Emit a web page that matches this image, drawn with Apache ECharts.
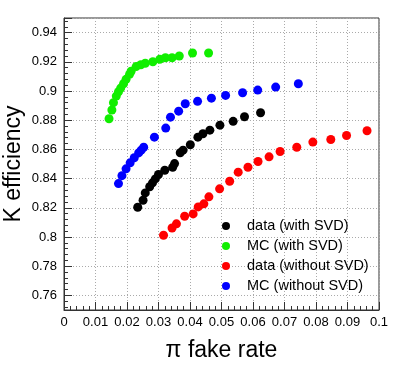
<!DOCTYPE html>
<html><head><meta charset="utf-8">
<script src="https://cdn.jsdelivr.net/npm/echarts@6/dist/echarts.min.js"></script>
<style>html,body{margin:0;padding:0;background:#fff}#c{width:399px;height:370px}</style>
</head><body><div id="c"></div>
<script>
var seriesNames = ["data (with SVD)", "MC (with SVD)", "data (without SVD)", "MC (without SVD)"];
var seriesColors = ["#000000", "#11ee00", "#ff0000", "#0000ff"];

var dataWithX = [0.0234,0.0251,0.0258,0.0272,0.0281,0.0290,0.0300,0.0320,0.0345,0.0351,0.0369,0.0378,0.0401,0.0425,0.0441,0.0463,0.0495,0.0537,0.0573,0.0624];
var dataWithY = [0.8204,0.8252,0.8302,0.8344,0.8371,0.8398,0.8428,0.8457,0.8478,0.8503,0.8577,0.8595,0.8632,0.8684,0.8707,0.8732,0.8766,0.8792,0.8824,0.8851];

var mcWithX = [0.0143,0.0152,0.0157,0.0166,0.0173,0.0180,0.0189,0.0197,0.0208,0.0213,0.0229,0.0244,0.0258,0.0282,0.0304,0.0322,0.0343,0.0366,0.0408,0.0459];
var mcWithY = [0.8810,0.8870,0.8920,0.8965,0.8995,0.9020,0.9050,0.9080,0.9114,0.9135,0.9167,0.9180,0.9190,0.9200,0.9217,0.9228,0.9228,0.9240,0.9260,0.9260];

var dataWithoutX = [0.0316,0.0343,0.0357,0.0383,0.0410,0.0426,0.0444,0.0460,0.0494,0.0526,0.0553,0.0584,0.0616,0.0651,0.0686,0.0739,0.0790,0.0847,0.0897,0.0962];
var dataWithoutY = [0.8012,0.8062,0.8090,0.8142,0.8158,0.8206,0.8227,0.8275,0.8330,0.8382,0.8444,0.8478,0.8517,0.8549,0.8586,0.8615,0.8650,0.8668,0.8695,0.8728];

var mcWithoutX = [0.0173,0.0184,0.0197,0.0210,0.0223,0.0237,0.0245,0.0253,0.0287,0.0323,0.0338,0.0364,0.0385,0.0424,0.0468,0.0513,0.0567,0.0615,0.0672,0.0744];
var mcWithoutY = [0.8366,0.8420,0.8467,0.8508,0.8543,0.8576,0.8595,0.8615,0.8684,0.8746,0.8821,0.8862,0.8913,0.8929,0.8951,0.8970,0.8988,0.9006,0.9027,0.9050];

var xAxisTitle = "π fake rate";
var yAxisTitle = "K efficiency";

function zip(xs, ys) { return xs.map(function (x, i) { return [x, ys[i]]; }); }
var allX = [dataWithX, mcWithX, dataWithoutX, mcWithoutX];
var allY = [dataWithY, mcWithY, dataWithoutY, mcWithoutY];

var chart = echarts.init(document.getElementById('c'), null, {renderer: 'canvas'});
var font = "Liberation Sans";
var gridLine = {show: true, lineStyle: {color: '#aaaaaa', type: [1, 2], width: 1}};
chart.setOption({
  animation: false,
  backgroundColor: '#fff',
  grid: {left: 64, top: 18, right: 20, bottom: 60, containLabel: false, outerBoundsMode: 'none', show: true, borderColor: '#333', borderWidth: 1, backgroundColor: 'transparent'},
  legend: {
    orient: 'vertical', left: 217, top: 213, itemWidth: 8, itemHeight: 8, itemGap: 4,
    icon: 'circle',
    textStyle: {fontFamily: font, fontSize: 14.5, color: '#000', lineHeight: 16, padding: [0, 0, 0, 12]},
    data: seriesNames
  },
  xAxis: {
    type: 'value', min: 0, max: 0.1, interval: 0.01,
    name: xAxisTitle, nameLocation: 'middle', nameGap: 29,
    nameTextStyle: {fontFamily: font, fontSize: 23, color: '#000'},
    axisLine: {show: true, onZero: false, lineStyle: {color: '#333', width: 1}},
    axisTick: {show: true, inside: true, length: 8, lineStyle: {color: '#333'}},
    minorTick: {show: true, splitNumber: 5, length: 4, lineStyle: {color: '#333'}},
    axisLabel: {fontFamily: font, fontSize: 13, color: '#000', margin: 6},
    splitLine: gridLine
  },
  yAxis: {
    type: 'value', min: 0.75, max: 0.95, splitNumber: 10,
    name: yAxisTitle, nameLocation: 'middle', nameGap: 39, nameRotate: 90, nameMoveOverlap: false,
    nameTextStyle: {fontFamily: font, fontSize: 23, color: '#000'},
    axisLine: {show: true, onZero: false, lineStyle: {color: '#333', width: 1}},
    axisTick: {show: true, inside: true, length: 8, lineStyle: {color: '#333'}},
    minorTick: {show: true, splitNumber: 5, length: 4, lineStyle: {color: '#333'}},
    axisLabel: {fontFamily: font, fontSize: 13, color: '#000', margin: 7, showMinLabel: false, showMaxLabel: false},
    splitLine: gridLine
  },
  series: seriesNames.map(function (n, i) {
    return {
      name: n, type: 'scatter', symbol: 'circle', symbolSize: 9,
      itemStyle: {color: seriesColors[i], opacity: 1},
      data: zip(allX[i], allY[i])
    };
  })
});
</script></body></html>
